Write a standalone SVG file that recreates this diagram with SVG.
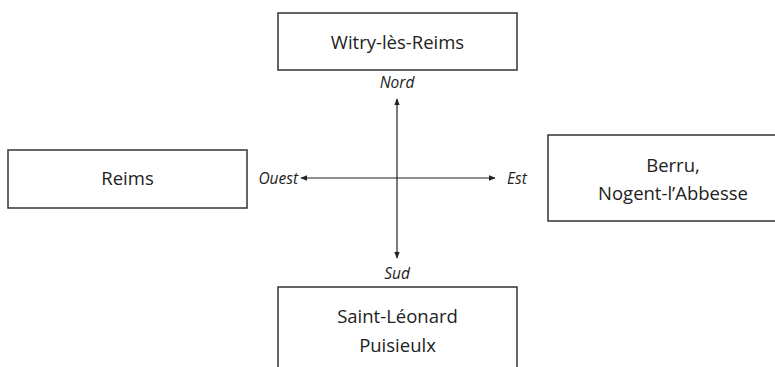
<svg xmlns="http://www.w3.org/2000/svg" width="775" height="367" viewBox="0 0 775 367">
<defs>
<style>
.box{fill:#fff;stroke:#333;stroke-width:1.5}
.t{font-family:"Open Sans","Noto Sans",sans-serif;font-size:18.5px;fill:#222;text-anchor:middle}
.d{font-family:"Open Sans","Noto Sans",sans-serif;font-size:15.5px;font-style:italic;fill:#222;text-anchor:middle}
.c{stroke:#222;stroke-width:1.2;fill:none}
</style>
<marker id="ah" viewBox="0 0 10 10" refX="9" refY="5" markerWidth="7" markerHeight="7" orient="auto-start-reverse" markerUnits="userSpaceOnUse">
<path d="M0,1 L10,5 L0,9 Z" fill="#222"/>
</marker>
</defs>
<rect width="775" height="367" fill="#fff"/>
<g id="connectors">
<line class="c" x1="397" y1="99" x2="397" y2="258" marker-start="url(#ah)" marker-end="url(#ah)"/>
<line class="c" x1="301" y1="178" x2="495" y2="178" marker-start="url(#ah)" marker-end="url(#ah)"/>
</g>
<g id="nord"><rect class="box" x="278" y="13" width="239" height="57"/><text class="t" x="397.5" y="49">Witry-lès-Reims</text></g>
<g id="ouest"><rect class="box" x="8" y="150" width="239" height="58"/><text class="t" x="127.5" y="185">Reims</text></g>
<g id="est"><rect class="box" x="548" y="135" width="250" height="86"/><text class="t" x="673" y="172">Berru,</text><text class="t" x="673" y="200">Nogent-l’Abbesse</text></g>
<g id="sud"><rect class="box" x="278" y="287" width="239" height="100"/><text class="t" x="397.5" y="323">Saint-Léonard</text><text class="t" x="397.5" y="352">Puisieulx</text></g>
<g id="labels">
<text class="d" x="397" y="88">Nord</text>
<text class="d" x="298" y="184" style="text-anchor:end">Ouest</text>
<text class="d" x="507" y="184" style="text-anchor:start">Est</text>
<text class="d" x="397" y="279">Sud</text>
</g>
</svg>
